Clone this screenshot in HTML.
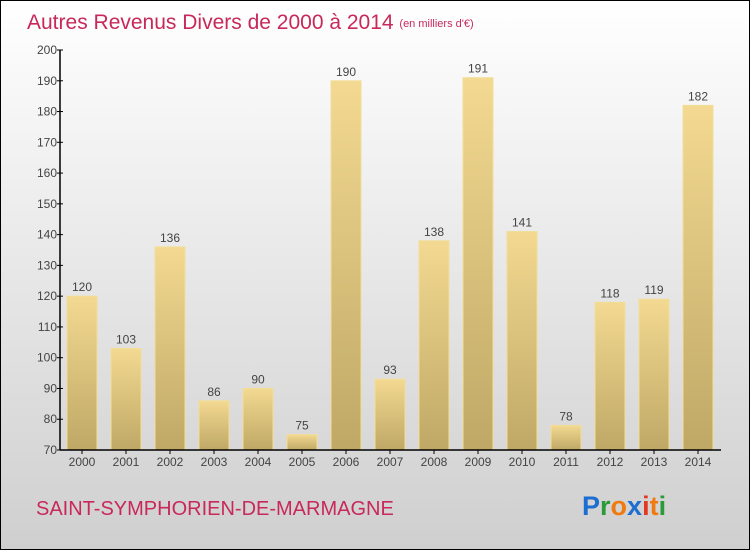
<!DOCTYPE html>
<html><head><meta charset="utf-8"><style>
html,body{margin:0;padding:0}
body{width:750px;height:550px;overflow:hidden;font-family:"Liberation Sans",sans-serif}
</style></head><body>
<svg width="750" height="550" xmlns="http://www.w3.org/2000/svg">
<defs>
<linearGradient id="bg" x1="0" y1="0" x2="0" y2="1"><stop offset="0" stop-color="#ffffff"/><stop offset="1" stop-color="#cfcfcf"/></linearGradient>
<linearGradient id="bar" x1="0" y1="0" x2="0" y2="1"><stop offset="0" stop-color="#f3d991"/><stop offset="1" stop-color="#bfa866"/></linearGradient>
</defs>
<rect x="0.5" y="0.5" width="749" height="549" fill="url(#bg)" stroke="#000"/>
<text x="27" y="29" font-size="21" fill="#c8285a">Autres Revenus Divers de 2000 à 2014 <tspan font-size="11" dy="-2">(en milliers d'€)</tspan></text>
<g id="plot"></g>
<text x="36" y="515" font-size="20" fill="#c8285a">SAINT-SYMPHORIEN-DE-MARMAGNE</text>
<text x="582" y="515" font-size="27" font-weight="bold"><tspan fill="#1c6fd0">P</tspan><tspan fill="#2a9a3a">r</tspan><tspan fill="#f07a10">o</tspan><tspan fill="#1c6fd0">x</tspan><tspan fill="#e03a20">i</tspan><tspan fill="#f07a10">t</tspan><tspan fill="#2a9a3a">i</tspan></text>
</svg>
<script>
const categories=["2000","2001","2002","2003","2004","2005","2006","2007","2008","2009","2010","2011","2012","2013","2014"];
const values=[120,103,136,86,90,75,190,93,138,191,141,78,118,119,182];
const yTicks=[70,80,90,100,110,120,130,140,150,160,170,180,190,200];
const NS="http://www.w3.org/2000/svg";
const g=document.getElementById('plot');
const x0=60,x1=720,y0=450,y1=50,ymin=70,ymax=200;
const ys=v=>y0-(v-ymin)/(ymax-ymin)*(y0-y1);
const step=(x1-x0)/categories.length;
function mk(t,a){const e=document.createElementNS(NS,t);for(const k in a)e.setAttribute(k,a[k]);g.appendChild(e);return e;}
values.forEach((v,i)=>{
 const r=mk('rect',{x:x0+i*step+7,y:ys(v),width:30,height:y0-ys(v),fill:'url(#bar)',stroke:'#f3de98','stroke-width':1});
 
 
 const t=mk('text',{x:x0+i*step+22,y:ys(v)-5,'font-size':12,fill:'#444','text-anchor':'middle'});
 t.textContent=v;
 
 
 const c=mk('text',{x:x0+i*step+22,y:466,'font-size':12,fill:'#444','text-anchor':'middle'});
 c.textContent=categories[i];
 
 
 const tk=mk('line',{x1:x0+i*step+22,x2:x0+i*step+22,y1:y0,y2:y0+4,stroke:'#000'});
 
 
});
yTicks.forEach(v=>{
 const t=mk('text',{x:x0-3,y:ys(v)+4,'font-size':12,fill:'#444','text-anchor':'end'});
 t.textContent=v;
 
 
 const l=mk('line',{x1:x0-3,x2:x0+3,y1:ys(v),y2:ys(v),stroke:'#000'});
 
 
});
const ya=mk('line',{x1:x0,x2:x0,y1:y1,y2:y0,stroke:'#000','stroke-width':1.5});


const xa=mk('line',{x1:x0,x2:x1+1,y1:y0,y2:y0,stroke:'#000','stroke-width':1.5});


</script>
</body></html>
